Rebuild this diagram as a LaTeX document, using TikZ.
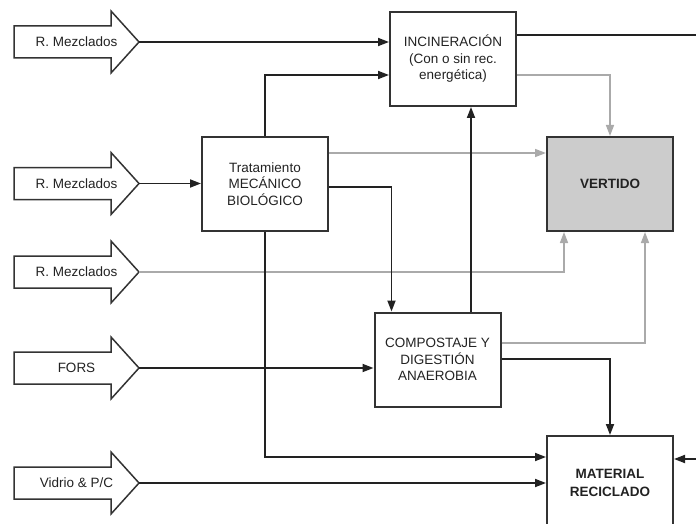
\documentclass[tikz,border=0pt]{standalone}
\usepackage{fontspec}
\setmainfont{Liberation Sans}
\usetikzlibrary{calc,arrows.meta}
\definecolor{ink}{HTML}{222222}
\definecolor{edge}{HTML}{333333}
\definecolor{lgray}{HTML}{AAAAAA}
\definecolor{vfill}{HTML}{CCCCCC}
\newcommand{\inarrow}[3]{%
  \draw[blockarrow] (14,#2-16) -- (111,#2-16) -- (111,#2-31) -- (139,#2) -- (111,#2+31) -- (111,#2+16) -- (14,#2+16) -- cycle;
  \node[lbl] (#1) at (76.5,#2) {#3};
  \coordinate (#1tip) at (139,#2);
}
\begin{document}
\begin{tikzpicture}[x=1pt,y=-1pt,
  lbl/.style={font=\fontsize{13.5}{16.5}\selectfont, text=ink, inner sep=0pt},
  procbox/.style={draw=edge, line width=2pt, minimum width=126pt, minimum height=94pt, inner sep=2pt, align=center, font=\fontsize{13.5}{16.5}\selectfont, text=ink},
  blockarrow/.style={draw=edge, line width=1.5pt, fill=white},
  blk/.style={draw=ink, line width=1.8pt, -{Triangle[length=11pt,width=8pt]}},
  blkn/.style={draw=ink, line width=1.8pt},
  gry/.style={draw=lgray, line width=1.5pt, -{Triangle[length=11pt,width=8pt]}},
]
\useasboundingbox (0,0) rectangle (696,524);
\begin{scope}
\clip (0,0) rectangle (696,524);
\inarrow{a1}{42}{R. Mezclados}
\inarrow{a2}{183.5}{R. Mezclados}
\inarrow{a3}{272}{R. Mezclados}
\inarrow{a4}{368}{FORS}
\inarrow{a5}{483}{Vidrio \& P/C}

\node[procbox] (tmb) at (265,184) {Tratamiento\\MECÁNICO\\BIOLÓGICO};
\node[procbox] (inc) at (453,59) {INCINERACIÓN\\(Con o sin rec.\\energética)};
\node[procbox, fill=vfill, font=\fontsize{13.5}{16.5}\selectfont\bfseries] (vert) at (610,184) {VERTIDO};
\node[procbox] (comp) at (437.5,359.5) {COMPOSTAJE Y\\DIGESTIÓN\\ANAEROBIA};
\node[procbox, font=\fontsize{13.5}{18}\selectfont\bfseries] (mat) at (610,483) {MATERIAL\\RECICLADO};

\coordinate (e1) at (700,35);
\coordinate (e2) at (700,459);
\coordinate (tg) at ($(tmb.east)+(0,-31)$);

% gray connectors first
\draw[gry] (tg) -- (tg -| vert.west);
\draw[gry] (a3tip) -| ($(vert.south)+(-46,0)$);
\draw[gry] ($(inc.east)+(0,16)$) -| (vert.north);
\draw[gry] ($(comp.east)+(0,-16.5)$) -| ($(vert.south)+(35,0)$);

% black connectors
\draw[blk] (a1tip) -- (a1tip -| inc.west);
\draw[blk] (tmb.north) |- ($(inc.west)+(0,16)$);
\draw[blk] (a2tip) -- (a2tip -| tmb.west);
\draw[blk] ($(tmb.east)+(0,3)$) -| ($(comp.north west)+(18,0)$);
\draw[blk] (tmb.south) |- ($(mat.west)+(0,-26)$);
\draw[blk] (a4tip) -- (a4tip -| comp.west);
\draw[blk] ($(comp.north)+(33.5,0)$) -- ($(inc.south)+(18,0)$);
\draw[blkn] ($(inc.east)+(0,-24)$) -- (e1);
\draw[blk] ($(comp.east)+(0,-0.5)$) -| (mat.north);
\draw[blk] (a5tip) -- (a5tip -| mat.west);
\draw[blk] (e2) -- (e2 -| mat.east);
\end{scope}
\end{tikzpicture}
\end{document}
